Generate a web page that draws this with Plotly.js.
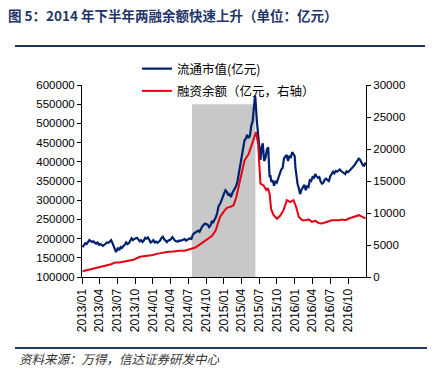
<!DOCTYPE html>
<html>
<head>
<meta charset="utf-8">
<script src="https://cdn.plot.ly/plotly-3.0.1.min.js"></script>
<style>
html,body{margin:0;padding:0;background:#fff;}
#chart{width:432px;height:382px;}
</style>
</head>
<body>
<div id="chart"></div>
<script>
// ---- data (亿元) ----
const capDates = ['2013-01-04','2013-01-11','2013-01-18','2013-01-25','2013-02-01','2013-02-08','2013-02-22','2013-03-01','2013-03-08','2013-03-15','2013-03-22','2013-03-29','2013-04-05','2013-04-12','2013-04-19','2013-04-26','2013-05-03','2013-05-10','2013-05-17','2013-05-24','2013-05-31','2013-06-07','2013-06-14','2013-06-21','2013-06-25','2013-07-05','2013-07-12','2013-07-19','2013-07-26','2013-08-02','2013-08-09','2013-08-16','2013-08-23','2013-08-30','2013-09-06','2013-09-13','2013-09-20','2013-09-27','2013-10-11','2013-10-18','2013-10-25','2013-11-01','2013-11-08','2013-11-15','2013-11-22','2013-11-29','2013-12-06','2013-12-13','2013-12-20','2013-12-27','2014-01-03','2014-01-10','2014-01-17','2014-01-24','2014-02-07','2014-02-14','2014-02-21','2014-02-28','2014-03-07','2014-03-14','2014-03-21','2014-03-28','2014-04-04','2014-04-11','2014-04-18','2014-04-25','2014-05-02','2014-05-09','2014-05-16','2014-05-23','2014-05-30','2014-06-06','2014-06-13','2014-06-20','2014-06-27','2014-07-04','2014-07-11','2014-07-18','2014-07-25','2014-08-01','2014-08-08','2014-08-15','2014-08-22','2014-08-29','2014-09-05','2014-09-12','2014-09-19','2014-09-26','2014-10-10','2014-10-17','2014-10-24','2014-10-31','2014-11-07','2014-11-14','2014-11-21','2014-11-28','2014-12-05','2014-12-12','2014-12-19','2014-12-26','2015-01-02','2015-01-09','2015-01-16','2015-01-23','2015-01-30','2015-02-06','2015-02-13','2015-02-27','2015-03-06','2015-03-13','2015-03-20','2015-03-27','2015-04-03','2015-04-10','2015-04-17','2015-04-24','2015-04-30','2015-05-08','2015-05-15','2015-05-22','2015-05-29','2015-06-03','2015-06-10','2015-06-12','2015-06-19','2015-06-26','2015-07-03','2015-07-08','2015-07-15','2015-07-20','2015-07-27','2015-08-03','2015-08-10','2015-08-17','2015-08-24','2015-08-28','2015-09-02','2015-09-09','2015-09-16','2015-09-23','2015-09-30','2015-10-09','2015-10-16','2015-10-23','2015-10-30','2015-11-06','2015-11-13','2015-11-20','2015-11-27','2015-12-04','2015-12-11','2015-12-18','2015-12-25','2015-12-31','2016-01-04','2016-01-08','2016-01-15','2016-01-22','2016-01-28','2016-02-05','2016-02-19','2016-02-26','2016-03-04','2016-03-11','2016-03-18','2016-03-25','2016-04-01','2016-04-08','2016-04-15','2016-04-22','2016-04-29','2016-05-06','2016-05-13','2016-05-20','2016-05-27','2016-06-03','2016-06-10','2016-06-17','2016-06-24','2016-07-01','2016-07-08','2016-07-15','2016-07-22','2016-07-29','2016-08-05','2016-08-12','2016-08-19','2016-08-26','2016-09-02','2016-09-09','2016-09-16','2016-09-23','2016-09-30','2016-10-14','2016-10-21','2016-10-28','2016-11-04','2016-11-11','2016-11-18','2016-11-25','2016-12-02','2016-12-09','2016-12-16','2016-12-23','2016-12-30'];
const capValues = [178000,183000,188000,186000,192000,196000,191000,193000,189000,187000,190000,184000,186000,183000,181000,184000,186000,190000,189000,194000,196000,188000,180000,171000,165000,176000,170000,178000,176000,181000,184000,190000,186000,188000,195000,201000,196000,199000,202000,198000,193000,196000,191000,195000,202000,200000,203000,197000,190000,192000,196000,190000,192000,189000,195000,202000,205000,198000,193000,191000,195000,196000,199000,204000,199000,194000,193000,192000,195000,194000,196000,197000,199000,195000,197000,200000,201000,199000,210000,214000,216000,219000,221000,218000,226000,232000,236000,239000,236000,230000,234000,244000,243000,250000,256000,268000,285000,290000,302000,308000,318000,326000,322000,314000,316000,308000,318000,330000,338000,352000,375000,390000,420000,438000,456000,460000,470000,462000,468000,495000,505000,535000,572000,566000,510000,470000,430000,405000,440000,448000,402000,410000,432000,438000,360000,365000,348000,352000,338000,350000,346000,362000,372000,380000,384000,408000,414000,418000,402000,416000,410000,425000,420000,415000,385000,362000,342000,330000,316000,328000,340000,326000,336000,334000,352000,350000,360000,358000,368000,362000,358000,360000,348000,343000,346000,354000,356000,352000,350000,362000,370000,374000,370000,376000,374000,378000,380000,376000,373000,371000,368000,375000,373000,380000,384000,386000,392000,398000,404000,408000,405000,396000,391000,390000,398000];

const marginDates = ['2013-01-04','2013-02-01','2013-03-01','2013-04-01','2013-05-02','2013-05-31','2013-06-20','2013-07-12','2013-08-01','2013-09-02','2013-09-23','2013-10-26','2013-11-20','2013-12-13','2013-12-31','2014-01-27','2014-02-24','2014-03-21','2014-04-18','2014-05-16','2014-06-13','2014-07-20','2014-08-08','2014-08-22','2014-09-18','2014-10-10','2014-10-31','2014-11-20','2014-12-05','2014-12-12','2014-12-31','2015-01-16','2015-02-06','2015-02-20','2015-03-06','2015-03-20','2015-04-03','2015-04-17','2015-05-08','2015-05-22','2015-06-05','2015-06-15','2015-06-26','2015-07-03','2015-07-08','2015-07-24','2015-08-07','2015-08-15','2015-08-24','2015-09-01','2015-09-13','2015-10-01','2015-10-18','2015-11-03','2015-11-21','2015-12-08','2015-12-25','2016-01-07','2016-01-21','2016-02-08','2016-02-25','2016-03-12','2016-03-29','2016-04-16','2016-05-02','2016-05-20','2016-06-06','2016-06-23','2016-07-10','2016-07-27','2016-08-14','2016-09-01','2016-09-18','2016-10-05','2016-10-22','2016-11-09','2016-11-26','2016-12-13','2016-12-30'];
const marginValues = [900,1100,1300,1600,1750,2000,2250,2250,2380,2600,2700,3150,3250,3400,3430,3650,3850,3940,3980,4100,4100,4450,4600,4900,5450,5900,6400,7300,8700,9400,10200,10800,11000,11220,12500,14500,16300,18200,19200,20500,21800,22640,20800,17000,14600,14300,13600,13900,13000,10600,9700,9100,9600,10400,12000,11700,12000,11000,9400,8880,8850,8990,8620,8770,8450,8370,8600,8720,8880,8860,8880,8990,8880,9140,9300,9500,9660,9400,9150];

const tickDates = ['2013-01-01','2013-04-01','2013-07-01','2013-10-01','2014-01-01','2014-04-01','2014-07-01','2014-10-01','2015-01-01','2015-04-01','2015-07-01','2015-10-01','2016-01-01','2016-04-01','2016-07-01','2016-10-01'];
const tickLabels = ['2013/01','2013/04','2013/07','2013/10','2014/01','2014/04','2014/07','2014/10','2015/01','2015/04','2015/07','2015/10','2016/01','2016/04','2016/07','2016/10'];

const seriesNames = ['流通市值(亿元)','融资余额（亿元，右轴）'];
const shadeStart = '2014-07-21';
const shadeEnd = '2015-06-12';
const shadeBottom = 100000;
const shadeTop = 550000;

// ---- layout helpers (pixel -> paper) ----
const L = 82, R = 366, T = 85, B = 277, W = 432, H = 382;
const px = x => (x - L) / (R - L);
const py = y => (B - y) / (B - T);

const navy = '#1f3568';
const tickFont = {family: 'Liberation Sans, Arial, sans-serif', size: 11.5, color: '#000'};

const traces = [
  {x: capDates, y: capValues, name: seriesNames[0], type: 'scatter', mode: 'lines',
   line: {color: '#002070', width: 2.2}, yaxis: 'y', legendgroup: 'a'},
  {x: marginDates, y: marginValues, name: seriesNames[1], type: 'scatter', mode: 'lines',
   line: {color: '#e60012', width: 2}, yaxis: 'y2', legendgroup: 'b'}
];

const layout = {
  width: W, height: H,
  margin: {l: L, r: W - R, t: T, b: H - B, pad: 0},
  paper_bgcolor: '#fff', plot_bgcolor: 'rgba(0,0,0,0)',
  showlegend: true,
  title: {text: '图 5：2014 年下半年两融余额快速上升（单位：亿元）',
    font: {family: 'Noto Sans CJK SC, sans-serif', size: 13.5, color: navy, weight: 'bold'},
    x: 8 / W, xanchor: 'left', xref: 'container', y: 1 - 16 / H, yanchor: 'middle', yref: 'container'},
  xaxis: {
    type: 'date', range: ['2013-01-01', '2017-01-01'],
    tickvals: tickDates, ticktext: tickLabels, tickangle: -90,
    ticks: 'outside', ticklen: 6, tickcolor: '#000', tickwidth: 1,
    showline: true, linecolor: '#000', linewidth: 1,
    showgrid: false, zeroline: false,
    tickfont: {family: 'Liberation Sans, Arial, sans-serif', size: 12, color: '#000'}
  },
  yaxis: {
    range: [100000, 600000], dtick: 50000, tick0: 100000, tickformat: 'd',
    ticks: 'outside', ticklen: 4, tickcolor: '#000',
    showline: true, linecolor: '#000', linewidth: 1,
    showgrid: false, zeroline: false, tickfont: tickFont
  },
  yaxis2: {
    range: [0, 30000], dtick: 5000, tick0: 0, tickformat: 'd',
    overlaying: 'y', side: 'right', anchor: 'x',
    ticks: 'outside', ticklen: 4, tickcolor: '#000',
    showline: true, linecolor: '#000', linewidth: 1,
    showgrid: false, zeroline: false, tickfont: tickFont
  },
  legend: {
    x: px(137), y: py(54), xanchor: 'left', yanchor: 'top',
    bgcolor: 'rgba(0,0,0,0)', borderwidth: 0,
    font: {family: 'Noto Sans CJK SC, sans-serif', size: 12.5, color: '#000'},
    itemwidth: 30, tracegroupgap: 3
  },
  shapes: [
    {type: 'rect', xref: 'x', yref: 'y', x0: shadeStart, x1: shadeEnd, y0: shadeBottom, y1: shadeTop,
     fillcolor: '#c8c8c8', line: {width: 0}, layer: 'below'},
    {type: 'line', xref: 'paper', yref: 'paper', x0: px(15), x1: px(425), y0: py(46), y1: py(46),
     line: {color: navy, width: 2}},
    {type: 'line', xref: 'paper', yref: 'paper', x0: px(15), x1: px(427), y0: py(348), y1: py(348),
     line: {color: navy, width: 2}}
  ],
  annotations: [
    {text: '资料来源：万得，信达证券研发中心', xref: 'paper', yref: 'paper',
     x: px(17), y: py(358), xanchor: 'left', yanchor: 'middle', showarrow: false,
     font: {family: 'Noto Sans CJK SC, sans-serif', size: 12.5, color: '#333', style: 'italic'}}
  ]
};

Plotly.newPlot('chart', traces, layout, {displayModeBar: false, staticPlot: true});
</script>
</body>
</html>
